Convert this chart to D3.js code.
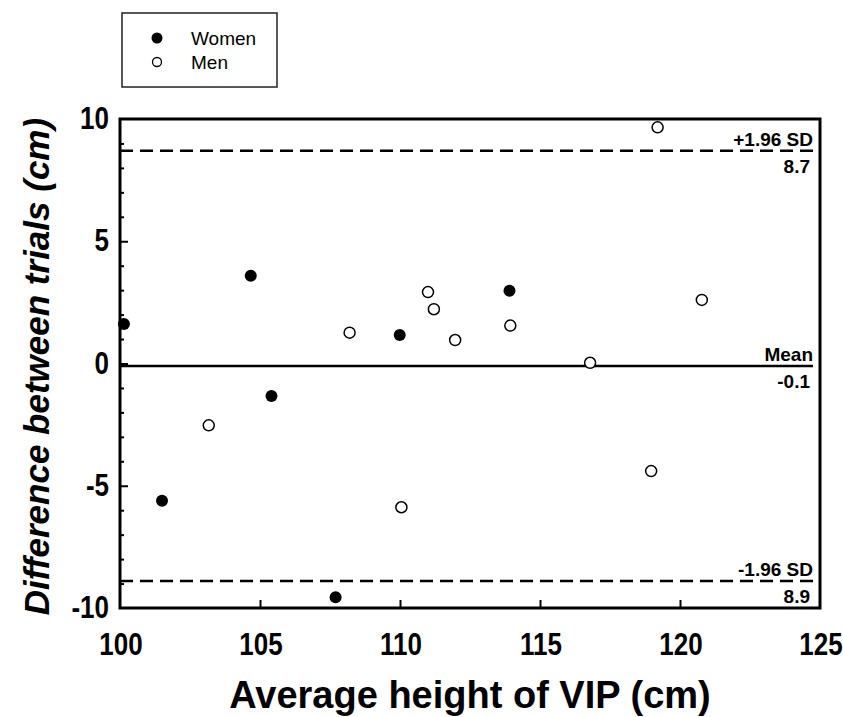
<!DOCTYPE html>
<html>
<head>
<meta charset="utf-8">
<script src="https://cdn.jsdelivr.net/npm/d3@7"></script>
<style>
  body { margin: 0; background: #fff; }
  svg { display: block; font-family: "Liberation Sans", Arial, sans-serif; }
</style>
</head>
<body>
<svg id="chart" width="843" height="717"></svg>
<script>
// Bland–Altman data: average height of VIP (cm) vs difference between trials (cm)
const womenX = [100.14, 101.5, 104.67, 105.41, 107.7, 109.99, 113.91];
const womenY = [1.62, -5.61, 3.59, -1.33, -9.56, 1.17, 2.98];
const menX = [103.17, 108.2, 110.05, 111.0, 111.21, 111.97, 113.94, 116.79, 118.97, 119.2, 120.78];
const menY = [-2.53, 1.26, -5.88, 2.92, 2.22, 0.96, 1.55, 0.03, -4.4, 9.66, 2.6];

// Agreement lines: value, upper label, lower label, style
const refValues = [8.7, -0.1, -8.9];
const refNames = ["+1.96 SD", "Mean", "-1.96 SD"];
const refTexts = ["8.7", "-0.1", "8.9"];
const refDashed = [true, false, true];

const xTicks = [100, 105, 110, 115, 120, 125];
const yTicks = [-10, -5, 0, 5, 10];
const yMinor = d3.range(-10, 11, 1);

const legendNames = ["Women", "Men"];

const svg = d3.select("#chart");
const plotLeft = 120, plotRight = 820, plotTop = 119, plotBottom = 608;

const x = d3.scaleLinear().domain([100, 125]).range([plotLeft, plotRight]);
const y = d3.scaleLinear().domain([-10, 10]).range([plotBottom, plotTop]);

// minor y ticks (inside)
svg.append("g").attr("transform", `translate(${plotLeft},0)`)
  .call(d3.axisRight(y).tickValues(yMinor.filter(v => v % 5 !== 0)).tickSize(4).tickFormat(""))
  .call(g => g.select(".domain").remove())
  .call(g => g.selectAll("line").attr("stroke", "#000").attr("stroke-width", 2));

// major y ticks (inside) + labels outside
const yAxis = svg.append("g").attr("transform", `translate(${plotLeft},0)`)
  .call(d3.axisRight(y).tickValues([-5, 0, 5]).tickSize(8).tickFormat(""));
yAxis.select(".domain").remove();
yAxis.selectAll("line").attr("stroke", "#000").attr("stroke-width", 2);

svg.append("g").selectAll("text").data(yTicks).join("text")
  .attr("transform", d => `translate(${plotLeft - 11},${y(d) + 10}) scale(1,1.18)`)
  .attr("text-anchor", "end").attr("font-size", 26).attr("font-weight", "bold")
  .text(d => d);

// x ticks inside from bottom
const xAxis = svg.append("g").attr("transform", `translate(0,${plotBottom})`)
  .call(d3.axisTop(x).tickValues([105, 110, 115, 120]).tickSize(8).tickFormat(""));
xAxis.select(".domain").remove();
xAxis.selectAll("line").attr("stroke", "#000").attr("stroke-width", 2);

svg.append("g").selectAll("text").data(xTicks).join("text")
  .attr("transform", d => `translate(${x(d) + 1},${plotBottom + 47}) scale(1,1.18)`)
  .attr("text-anchor", "middle").attr("font-size", 26).attr("font-weight", "bold")
  .text(d => d);

// reference lines
refValues.forEach((v, i) => {
  svg.append("line")
    .attr("x1", plotLeft).attr("x2", plotRight - 7)
    .attr("y1", y(v)).attr("y2", y(v))
    .attr("stroke", "#000").attr("stroke-width", 2.5)
    .attr("stroke-dasharray", refDashed[i] ? "13,7" : null);
  svg.append("text")
    .attr("x", plotRight - 7).attr("y", y(v) - 5)
    .attr("text-anchor", "end").attr("font-size", 19).attr("font-weight", "bold")
    .text(refNames[i]);
  svg.append("text")
    .attr("x", plotRight - 10).attr("y", y(v) + 22)
    .attr("text-anchor", "end").attr("font-size", 19).attr("font-weight", "bold")
    .text(refTexts[i]);
});

// points
svg.append("g").selectAll("circle").data(menX.map((d, i) => [d, menY[i]])).join("circle")
  .attr("cx", d => x(d[0])).attr("cy", d => y(d[1])).attr("r", 5.5)
  .attr("fill", "#fff").attr("stroke", "#000").attr("stroke-width", 1.5);
svg.append("g").selectAll("circle").data(womenX.map((d, i) => [d, womenY[i]])).join("circle")
  .attr("cx", d => x(d[0])).attr("cy", d => y(d[1])).attr("r", 6)
  .attr("fill", "#000");

// frame
svg.append("rect")
  .attr("x", plotLeft).attr("y", plotTop).attr("width", plotRight - plotLeft).attr("height", plotBottom - plotTop)
  .attr("fill", "none").attr("stroke", "#000").attr("stroke-width", 3);

// legend
const lg = svg.append("g");
lg.append("rect").attr("x", 122).attr("y", 13).attr("width", 155).attr("height", 74)
  .attr("fill", "#fff").attr("stroke", "#222").attr("stroke-width", 1.5);
legendNames.forEach((name, i) => {
  const cy = 38 + i * 24;
  lg.append("circle").attr("cx", 157).attr("cy", cy).attr("r", i === 0 ? 5.5 : 4.5)
    .attr("fill", i === 0 ? "#000" : "#fff").attr("stroke", "#000").attr("stroke-width", i === 0 ? 0 : 1.3);
  lg.append("text").attr("x", 191).attr("y", cy + 7).attr("font-size", 19).text(name);
});

// axis titles
svg.append("text")
  .attr("x", 470).attr("y", 708)
  .attr("text-anchor", "middle").attr("font-size", 38).attr("font-weight", "bold")
  .text("Average height of VIP (cm)");
svg.append("text")
  .attr("transform", `translate(49,${(plotTop + plotBottom) / 2 + 3}) rotate(-90)`)
  .attr("text-anchor", "middle").attr("font-size", 35).attr("font-weight", "bold").attr("font-style", "italic")
  .text("Difference between trials (cm)");
</script>
</body>
</html>
